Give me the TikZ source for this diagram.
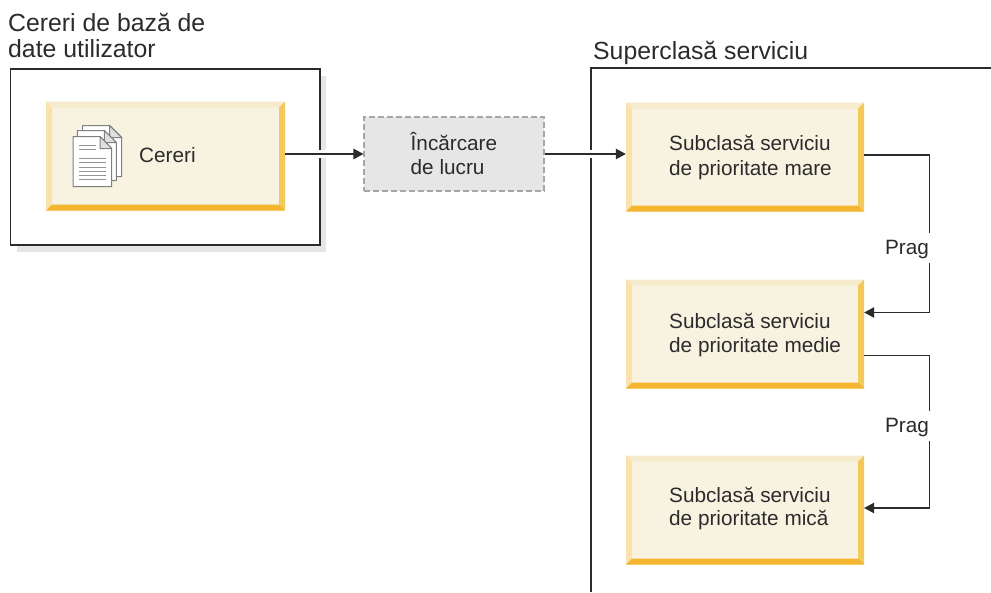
\documentclass[tikz,border=0pt]{standalone}
\usepackage{fontspec}
\setmainfont{Liberation Sans}
\usetikzlibrary{arrows.meta}
\definecolor{ink}{HTML}{2B2B2B}
\definecolor{face}{HTML}{F8F3E1}
\definecolor{bevT}{HTML}{F6EBCD}
\definecolor{bevL}{HTML}{F9E2AC}
\definecolor{bevR}{HTML}{F4C95C}
\definecolor{bevB}{HTML}{F3B62E}
\definecolor{paleshadow}{HTML}{E6E6E6}
\tikzset{
  frame/.style={draw=ink,line width=1.15pt},
  bevelbox/.style={rectangle,inner sep=0pt,minimum width=#1,minimum height=109pt,fill=face,
    path picture={
      \path (path picture bounding box.north west) coordinate (nw)
            (path picture bounding box.north east) coordinate (ne)
            (path picture bounding box.south west) coordinate (sw)
            (path picture bounding box.south east) coordinate (se);
      \fill[bevT] (nw) -- (ne) -- ([shift={(-6pt,-6pt)}]ne) -- ([shift={(6pt,-6pt)}]nw) -- cycle;
      \fill[bevL] (nw) -- (sw) -- ([shift={(6pt,6pt)}]sw) -- ([shift={(6pt,-6pt)}]nw) -- cycle;
      \fill[bevR] (ne) -- (se) -- ([shift={(-6pt,6pt)}]se) -- ([shift={(-6pt,-6pt)}]ne) -- cycle;
      \fill[bevB] (sw) -- (se) -- ([shift={(-6pt,6pt)}]se) -- ([shift={(6pt,6pt)}]sw) -- cycle;
    }},
  dashbox/.style={rectangle,draw=black!35,fill=paleshadow,dash pattern=on 6pt off 3pt,line width=1.1pt,
    inner sep=0pt,minimum width=180pt,minimum height=74pt},
  title/.style={anchor=base west,inner sep=0pt,font=\fontsize{24.8pt}{26pt}\selectfont,text=ink},
  lbl/.style={anchor=base west,inner sep=0pt,font=\fontsize{20.75pt}{24pt}\selectfont,text=ink},
  pragbox/.style={inner sep=0pt,fill=white,minimum width=48pt,minimum height=30pt},
  praglbl/.style={inner sep=0pt,font=\fontsize{20.75pt}{24pt}\selectfont,text=ink},
  link/.style={draw=ink,line width=1.25pt,-{Triangle[length=10pt,width=10.5pt]}},
  halolink/.style={link,preaction={draw=white,line width=8pt,-,shorten <=10pt,shorten >=14pt}},
  page/.style={fill=white,draw=black!50,line width=1pt,line join=round},
  fold/.style={fill=black!12,draw=black!50,line width=1pt,line join=round},
  rule/.style={draw=black!42,line width=.9pt},
}
\newcommand{\docpage}[4]{% left top right bottom
  \draw[page] (#1,#2) -- (#1+27,#2) -- (#3,#2+12) -- (#3,#4) -- (#1,#4) -- cycle;
  \draw[fold] (#1+27,#2) -- (#3,#2+12) -- (#1+27,#2+12) -- cycle;
}
\begin{document}
\begin{tikzpicture}[x=1pt,y=-1pt]
\useasboundingbox (0,0) rectangle (991,592);
% frames
\fill[paleshadow] (17,76) rectangle (326,252);
\draw[frame,fill=white] (10.5,69) rectangle (320,245);
\draw[frame] (991,68) -- (591,68) -- (591,592);
% boxes
\node[bevelbox=239pt] (req) at (165.5,156) {};
\node[dashbox] (load) at (454,154) {};
\node[bevelbox=238pt] (hi) at (745,157) {};
\node[bevelbox=238pt] (mid) at (745,334) {};
\node[bevelbox=238pt] (lo) at (745,510) {};
% document icon
\docpage{82.7}{125.5}{121.7}{176.7}
\docpage{77.3}{130.5}{116.3}{180.7}
\docpage{73}{136.5}{111.7}{186.7}
\foreach \yy/\xe in {145.5/96,149.5/96,158/106,162.5/106,167/106,171.5/106,175.7/106,179.5/106}
  \draw[rule] (79,\yy) -- (\xe,\yy);
% texts
\node[title] (t1) at (8,31) {Cereri de bază de};
\node[title] (t2) at (8,57) {date utilizator};
\node[title] (t3) at (593,59) {Superclasă serviciu};
\node[lbl] (c) at (139,162) {Cereri};
\node[lbl] (l1) at (410.5,150) {Încărcare};
\node[lbl] (l2) at (410.5,174) {de lucru};
\node[lbl] (h1) at (669,150.5) {Subclasă serviciu};
\node[lbl] (h2) at (669,175) {de prioritate mare};
\node[lbl] (m1) at (669,328) {Subclasă serviciu};
\node[lbl] (m2) at (669,352) {de prioritate medie};
\node[lbl] (o1) at (669,502) {Subclasă serviciu};
\node[lbl] (o2) at (669,525) {de prioritate mică};
% connectors
\coordinate (r1) at (929.5,155);
\coordinate (r2) at (929.5,312.5);
\coordinate (r3) at (929.5,355.5);
\coordinate (r4) at (929.5,508);
\draw[halolink] (req.east |- 0,154) -- (load.west);
\draw[halolink] (load.east) -- (hi.west |- load.east);
\draw[link] (hi.east |- r1) -- (r1) -- (r2) -- (hi.east |- r2);
\draw[link] (mid.east |- r3) -- (r3) -- (r4) -- (mid.east |- r4);
\node[pragbox] (p1) at (907,247.5) {};
\node[pragbox] (p2) at (907,426) {};
\node[praglbl] (p1t) at (907,249.5) {Prag};
\node[praglbl] (p2t) at (907,428) {Prag};
\end{tikzpicture}
\end{document}
